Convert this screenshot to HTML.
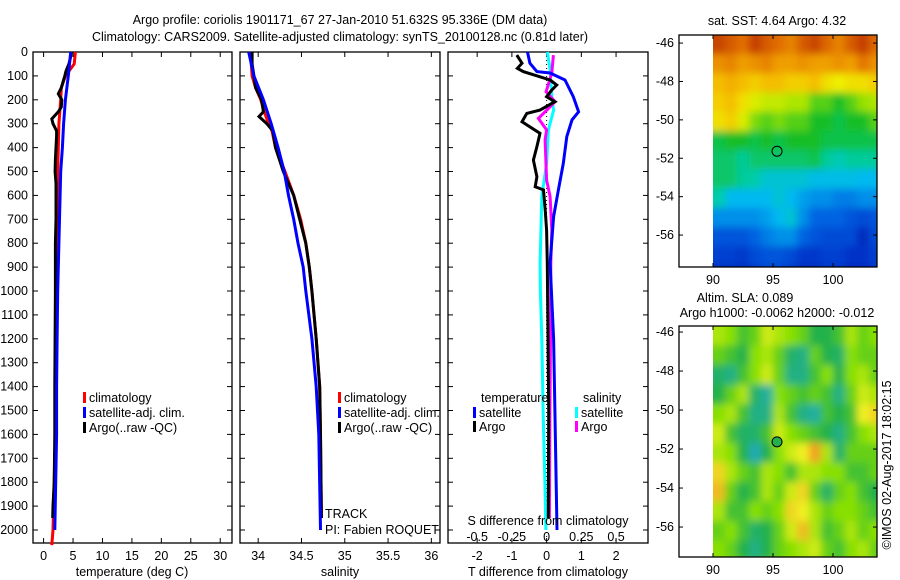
<!DOCTYPE html>
<html><head><meta charset="utf-8"><style>
body{margin:0;background:#fff;}
svg{display:block;font-family:"Liberation Sans",sans-serif;}
text{font-size:12.5px;fill:#000;}
</style></head><body>
<svg id="fig" width="900" height="580" viewBox="0 0 900 580">
<defs>
<filter id="blur1" x="-20%" y="-20%" width="140%" height="140%"><feGaussianBlur stdDeviation="4"/></filter>
<filter id="blur2" x="-20%" y="-20%" width="140%" height="140%"><feGaussianBlur stdDeviation="4"/></filter>
<clipPath id="clip1"><rect x="713" y="35" width="164" height="232"/></clipPath>
<clipPath id="clip2"><rect x="713" y="326" width="164" height="231"/></clipPath>
</defs>
<text x="340" y="24" text-anchor="middle">Argo profile: coriolis 1901171_67 27-Jan-2010 51.632S 95.336E (DM data)</text>
<text x="340" y="41" text-anchor="middle">Climatology: CARS2009. Satellite-adjusted climatology: synTS_20100128.nc (0.81d later)</text>
<g id="g"></g>
</svg>
<script>
// ---- data ----
const tDepth=[0,20,50,80,100,150,175,200,230,250,280,300,330,350,400,450,500,550,600,700,800,900,1000,1200,1400,1600,1800,1900,1950];
const tArgo=[4.66,4.6,4.3,3.8,3.6,3.0,2.5,3.1,3.0,2.5,1.4,1.6,2.2,2.2,2.1,2.0,1.95,2.1,2.1,2.1,2.0,2.0,2.0,1.95,1.9,1.9,1.8,1.6,1.55];
const cDepth=[0,50,100,150,200,300,400,500,700,1000,1500,1700,2000,2063];
const tClim=[5.4,5.2,3.7,3.0,2.9,2.6,2.5,2.4,2.3,2.2,2.1,1.9,1.6,1.4];
const sDepth=[0,100,200,300,400,500,600,700,800,900,1000,1200,1400,1600,2000];
const tSat=[4.6,4.2,3.7,3.4,3.2,2.9,2.8,2.7,2.6,2.5,2.4,2.3,2.2,2.2,1.9];
const aDepth=[0,50,100,150,200,250,270,300,330,400,500,600,700,800,900,1000,1200,1400,1600,1950];
const sArgo=[33.93,33.93,33.95,33.97,34.04,34.06,34.01,34.10,34.17,34.20,34.29,34.41,34.48,34.55,34.59,34.62,34.67,34.71,34.72,34.73];
const sClim=[33.92,33.92,33.93,33.97,34.03,34.07,34.09,34.12,34.16,34.20,34.31,34.41,34.49,34.55,34.59,34.62,34.67,34.71,34.72,34.73];
const sSatD=[0,100,200,300,400,500,600,700,800,900,1000,1200,1400,1600,2000];
const sSat=[33.89,33.95,34.06,34.15,34.23,34.30,34.35,34.41,34.46,34.52,34.55,34.62,34.67,34.70,34.72];
const dTsatD=[0,47,82,88,117,187,250,284,354,466,577,689,883,1200,1500,2000];
const dTsat=[-0.55,-0.48,-0.28,0.1,0.53,0.77,0.92,0.73,0.58,0.48,0.34,0.2,0.1,0.2,0.24,0.3];
const dTargoD=[13,47,68,82,117,138,159,187,208,243,257,292,340,396,452,522,564,577,661,745,883,1500,1950];
const dTargo=[-0.86,-0.71,-0.84,-0.67,0.1,0.29,0.15,0,0.24,-0.19,-0.57,-0.71,-0.19,-0.28,-0.38,-0.28,-0.33,-0.09,-0.04,0,0.02,0.06,0.05];
const dSsatD=[0,75,187,243,326,466,605,883,1000,1200,1500,1800,2000];
const dSsat=[0.006,0.025,0.037,0.05,0.013,0,-0.035,-0.047,-0.045,-0.035,-0.025,-0.012,-0.005];
const dSargoD=[13,88,166,208,243,278,326,368,536,605,745,883,1200,1500,1950];
const dSargo=[0.049,0.037,-0.004,0.061,0.001,-0.059,0,-0.011,0,0.025,0.037,0.03,0.028,0.024,0.02];
const depthTicks=[0,100,200,300,400,500,600,700,800,900,1000,1100,1200,1300,1400,1500,1600,1700,1800,1900,2000];
const tTicks=[0,5,10,15,20,25,30];
const sTicks=[34,34.5,35,35.5,36];
const sTickLbl=["34","34.5","35","35.5","36"];
const dTTicks=[-2,-1,0,1,2];
const dSTicks=[-0.5,-0.25,0,0.25,0.5];
const dSTickLbl=["-0.5","-0.25","0","0.25","0.5"];
const lonTicks=[90,95,100];
const latTicks=[-46,-48,-50,-52,-54,-56];
const sstGrid=[
[0.92,0.88,0.85,0.93,0.88,0.85,0.82,0.88,0.92,0.86,0.82,0.88,0.93,0.86],
[0.8,0.82,0.78,0.8,0.82,0.78,0.78,0.8,0.78,0.78,0.8,0.78,0.84,0.8],
[0.74,0.76,0.74,0.72,0.74,0.74,0.72,0.72,0.74,0.7,0.68,0.7,0.7,0.72],
[0.72,0.74,0.7,0.66,0.64,0.64,0.62,0.62,0.55,0.55,0.5,0.55,0.6,0.62],
[0.7,0.72,0.66,0.58,0.55,0.58,0.55,0.55,0.5,0.5,0.48,0.5,0.5,0.55],
[0.48,0.5,0.5,0.48,0.5,0.48,0.5,0.5,0.5,0.48,0.48,0.48,0.48,0.48],
[0.46,0.46,0.43,0.46,0.46,0.46,0.46,0.46,0.48,0.43,0.41,0.43,0.43,0.43],
[0.46,0.46,0.43,0.42,0.38,0.38,0.38,0.38,0.36,0.36,0.36,0.36,0.35,0.35],
[0.42,0.35,0.35,0.35,0.35,0.38,0.35,0.32,0.3,0.3,0.28,0.28,0.3,0.3],
[0.3,0.3,0.3,0.3,0.32,0.35,0.38,0.3,0.25,0.25,0.25,0.22,0.2,0.22],
[0.22,0.22,0.22,0.25,0.28,0.3,0.3,0.25,0.22,0.2,0.2,0.2,0.12,0.2],
[0.18,0.18,0.16,0.2,0.22,0.22,0.2,0.16,0.16,0.18,0.18,0.15,0.15,0.18],
[0.12,0.12,0.12,0.15,0.18,0.18,0.15,0.1,0.1,0.15,0.15,0.12,0.12,0.15]];
const slaGrid=[
[0.6,0.55,0.45,0.5,0.65,0.6,0.55,0.5,0.4,0.4,0.45,0.6,0.5,0.55],
[0.5,0.45,0.4,0.55,0.6,0.5,0.35,0.3,0.5,0.4,0.35,0.55,0.5,0.5],
[0.35,0.3,0.45,0.55,0.65,0.5,0.3,0.3,0.45,0.55,0.4,0.55,0.6,0.5],
[0.4,0.5,0.6,0.35,0.25,0.55,0.5,0.45,0.5,0.45,0.3,0.5,0.65,0.6],
[0.55,0.6,0.45,0.3,0.3,0.6,0.45,0.3,0.25,0.45,0.4,0.45,0.7,0.75],
[0.65,0.45,0.35,0.35,0.45,0.65,0.55,0.5,0.45,0.4,0.3,0.45,0.55,0.6],
[0.6,0.55,0.4,0.2,0.4,0.55,0.65,0.7,0.85,0.6,0.35,0.5,0.5,0.5],
[0.75,0.6,0.5,0.45,0.6,0.55,0.45,0.6,0.6,0.55,0.55,0.45,0.45,0.5],
[0.8,0.5,0.4,0.45,0.6,0.5,0.65,0.75,0.5,0.35,0.5,0.55,0.45,0.4],
[0.6,0.45,0.45,0.55,0.5,0.55,0.75,0.7,0.6,0.5,0.55,0.55,0.5,0.45],
[0.5,0.55,0.45,0.35,0.4,0.5,0.65,0.8,0.6,0.45,0.5,0.6,0.5,0.55],
[0.55,0.5,0.4,0.3,0.4,0.5,0.55,0.6,0.65,0.5,0.45,0.55,0.6,0.5],
[0.6,0.55,0.5,0.45,0.5,0.55,0.6,0.6,0.55,0.5,0.5,0.55,0.6,0.55]];
const argoLon=95.336, argoLat=-51.632;

// ---- drawing ----
const NS="http://www.w3.org/2000/svg";
const G=document.getElementById('g');
function mk(tag,attrs,parent){const e=document.createElementNS(NS,tag);for(const k in attrs)e.setAttribute(k,attrs[k]);(parent||G).appendChild(e);return e;}
function txt(x,y,s,anchor,parent){const e=mk('text',{x:x,y:y,'text-anchor':anchor||'start'},parent);e.textContent=s;return e;}
const yD=d=>52+d*0.239;
const P1={x0:33,x1:232,lo:-1.8,hi:32};
const P2={x0:240,x1:440,lo:33.79,hi:36.1};
const P3={x0:448,x1:648,lo:-2.84,hi:2.92};
const sx=(P,v)=>P.x0+(v-P.lo)/(P.hi-P.lo)*(P.x1-P.x0);
const sx3S=v=>sx(P3,v*4);
function frame(P,name){
  const r=mk('rect',{x:P.x0,y:52,width:P.x1-P.x0,height:491,fill:'none',stroke:'#000','stroke-width':1.3});
  
  
  depthTicks.forEach(d=>{mk('line',{x1:P.x0,x2:P.x0+5,y1:yD(d),y2:yD(d),stroke:'#000'});mk('line',{x1:P.x1,x2:P.x1-5,y1:yD(d),y2:yD(d),stroke:'#000'});});
}
function line(xs,ds,fx,color,name,w){
  const pts=xs.map((v,i)=>fx(v).toFixed(1)+','+yD(ds[i]).toFixed(1)).join(' ');
  const e=mk('polyline',{points:pts,fill:'none',stroke:color,'stroke-width':w||3,'stroke-linejoin':'miter'});
  
  
}
// panel 1
frame(P1,'temperature-panel');
depthTicks.forEach(d=>{const t=txt(28,yD(d)+4,String(d),'end');});
tTicks.forEach(v=>{const x=sx(P1,v);mk('line',{x1:x,x2:x,y1:52,y2:57,stroke:'#000'});mk('line',{x1:x,x2:x,y1:543,y2:538,stroke:'#000'});const t=txt(x,560,String(v),'middle');});
line(tClim,cDepth,v=>sx(P1,v),'#f00','temperature-climatology-line');
line(tArgo,tDepth,v=>sx(P1,v),'#000','temperature-argo-line');
line(tSat,sDepth,v=>sx(P1,v),'#00f','temperature-satellite-line');
let t=txt(132,576,'temperature (deg C)','middle');
// panel 2
frame(P2,'salinity-panel');
sTicks.forEach((v,i)=>{const x=sx(P2,v);mk('line',{x1:x,x2:x,y1:52,y2:57,stroke:'#000'});mk('line',{x1:x,x2:x,y1:543,y2:538,stroke:'#000'});const t=txt(x,560,sTickLbl[i],'middle');});
line(sClim,aDepth,v=>sx(P2,v),'#f00','salinity-climatology-line');
line(sArgo,aDepth,v=>sx(P2,v),'#000','salinity-argo-line');
line(sSat,sSatD,v=>sx(P2,v),'#00f','salinity-satellite-line');
t=txt(340,576,'salinity','middle');
t=txt(325,518,'TRACK');
t=txt(325,534,'PI: Fabien ROQUET');
// panel 3
frame(P3,'difference-panel');
dTTicks.forEach(v=>{const x=sx(P3,v);mk('line',{x1:x,x2:x,y1:52,y2:57,stroke:'#000'});mk('line',{x1:x,x2:x,y1:543,y2:538,stroke:'#000'});const t=txt(x,560,String(v),'middle');});
dSTicks.forEach((v,i)=>{const t=txt(sx3S(v),541,dSTickLbl[i],'middle');});
mk('line',{x1:sx(P3,0),x2:sx(P3,0),y1:52,y2:543,stroke:'#000','stroke-dasharray':'1,3'});
line(dSsat,dSsatD,sx3S,'#0ff','s-diff-satellite-line');
line(dSargo,dSargoD,sx3S,'#f0f','s-diff-argo-line');
line(dTargo,dTargoD,v=>sx(P3,v),'#000','t-diff-argo-line');
line(dTsat,dTsatD,v=>sx(P3,v),'#00f','t-diff-satellite-line');
t=txt(548,525,'S difference from climatology','middle');
t=txt(548,576,'T difference from climatology','middle');
// legends
function leg(x,y,color,label){const g=mk('g',{});mk('rect',{x:x,y:y-10,width:3,height:11,fill:color},g);txt(x+6,y,label,'start',g);}
leg(83,402,'#f00','climatology');leg(83,417,'#00f','satellite-adj. clim.');leg(83,432,'#000','Argo(..raw -QC)');
leg(338,402,'#f00','climatology');leg(338,417,'#00f','satellite-adj. clim.');leg(338,432,'#000','Argo(..raw -QC)');
t=txt(481,402,'temperature');
t=txt(583,402,'salinity');
leg(473,417,'#00f','satellite');leg(473,431,'#000','Argo');leg(575,417,'#0ff','satellite');leg(575,431,'#f0f','Argo');
// maps
function ramp(stops){return v=>{for(let i=1;i<stops.length;i++){if(v<=stops[i][0]){const a=stops[i-1],b=stops[i];const f=Math.max(0,(v-a[0])/(b[0]-a[0]));return 'rgb('+a[1].map((c,k)=>Math.round(c+(b[1][k]-c)*f)).join(',')+')';}}return 'rgb('+stops[stops.length-1][1].join(',')+')';};}
const sstCol=ramp([[0,[0,16,150]],[0.15,[0,50,200]],[0.25,[0,100,225]],[0.35,[0,185,240]],[0.42,[0,205,170]],[0.5,[20,190,40]],[0.6,[150,225,0]],[0.68,[240,240,0]],[0.75,[245,180,0]],[0.85,[225,110,0]],[1,[170,20,0]]]);
const slaCol=ramp([[0,[30,144,255]],[0.25,[32,176,160]],[0.4,[34,177,76]],[0.55,[136,224,0]],[0.7,[240,240,32]],[0.85,[240,160,32]],[1,[208,96,16]]]);
function map(M,grid,cf,filt,clip,name){
  const lx=v=>713+(v-90)*12, ly=v=>M.top+(M.latTop-v)*M.ppd;
  const outer=mk('g',{'clip-path':'url(#'+clip+')'});
  const g=mk('g',{filter:'url(#'+filt+')'},outer);
  
  
  const nr=grid.length,nc=grid[0].length;
  grid.forEach((row,r)=>row.forEach((v,c)=>{let x0=lx(90+c),x1=lx(91+c),y0=ly(M.latTop-r),y1=ly(M.latTop-r-1);
    if(c===0)x0-=15; if(c===nc-1)x1+=15; if(r===0)y0-=15; if(r===nr-1)y1+=15;
    mk('rect',{x:x0,y:y0,width:x1-x0+0.5,height:y1-y0+0.5,fill:cf(v)},g);}));
  const f=mk('rect',{x:679,y:M.top,width:198,height:M.bot-M.top,fill:'none',stroke:'#000','stroke-width':1.3});
  
  lonTicks.forEach(v=>{const x=lx(v);mk('line',{x1:x,x2:x,y1:M.top,y2:M.top+4,stroke:'#000'});mk('line',{x1:x,x2:x,y1:M.bot,y2:M.bot-4,stroke:'#000'});const t=txt(x,M.bot+17,String(v),'middle');});
  latTicks.forEach(v=>{const y=ly(v);mk('line',{x1:679,x2:683,y1:y,y2:y,stroke:'#000'});mk('line',{x1:877,x2:873,y1:y,y2:y,stroke:'#000'});const t=txt(674,y+4,String(v),'end');});
  const c=mk('circle',{cx:lx(argoLon),cy:ly(argoLat),r:5,fill:M.dot,stroke:'#000'});
  
}
map({top:35,bot:267,latTop:-45.58,ppd:19.2,dot:'none'},sstGrid,sstCol,'blur1','clip1','sst-map');
map({top:326,bot:557,latTop:-45.69,ppd:19.5,dot:'#22b14c'},slaGrid,slaCol,'blur2','clip2','sla-map');
t=txt(777,25,'sat. SST: 4.64  Argo: 4.32','middle');
t=txt(745,302,'Altim. SLA: 0.089','middle');
t=txt(777,317,'Argo h1000: -0.0062 h2000: -0.012','middle');
t=txt(0,0,'©IMOS 02-Aug-2017 18:02:15','middle');t.setAttribute('transform','translate(891,465) rotate(-90)');
</script>
</body></html>
